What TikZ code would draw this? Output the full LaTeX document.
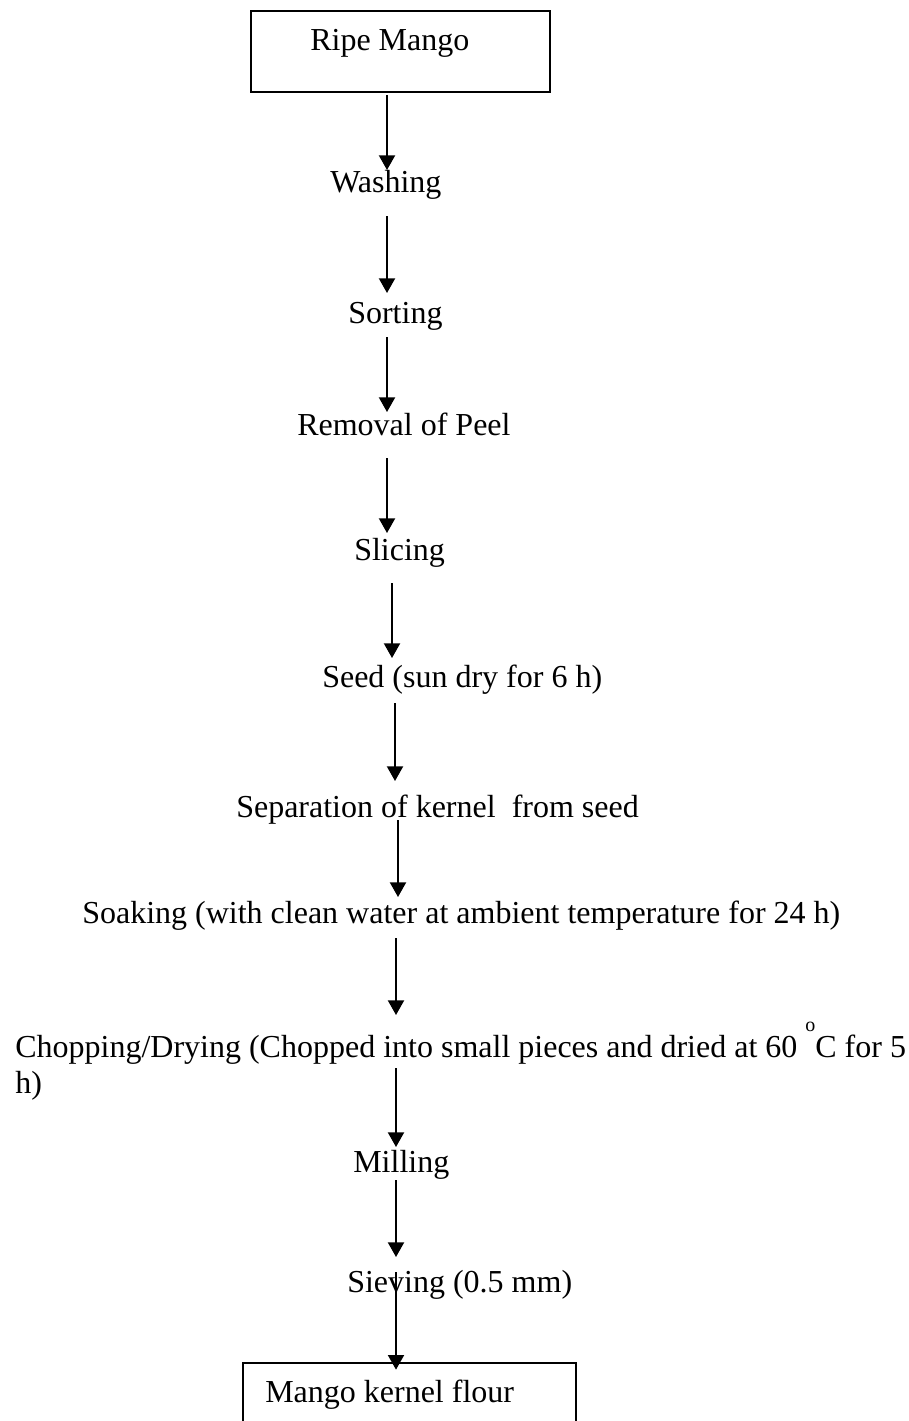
\documentclass[tikz,border=0pt]{standalone}
\usepackage{fontspec}
\setmainfont{Liberation Serif}
\usetikzlibrary{arrows.meta}
\begin{document}
\begin{tikzpicture}[x=0.75pt,y=-0.75pt,
  txt/.style={anchor=base west, inner sep=0pt, font=\fontsize{24}{28}\selectfont},
  arr/.style={line width=1.5pt, -{Triangle[width=12pt,length=11pt]}},
  boxline/.style={line width=1.4pt}]
\useasboundingbox (0,0) rectangle (909,1421);
% boxes
\node[boxline, draw, anchor=north west, inner sep=0pt, minimum width=224.25pt, minimum height=60.75pt] (topbox) at (250,10) {};
\draw[boxline] (243,1425) -- (243,1363) -- (576,1363) -- (576,1425);
\coordinate (botbox) at (396,1363);
% texts
\node[txt] (ripe) at (310,50) {Ripe Mango};
\node[txt] (wash) at (330,192) {Washing};
\node[txt] (sort) at (348,323) {Sorting};
\node[txt] (peel) at (297,435) {Removal of Peel};
\node[txt] (slic) at (354,560) {Slicing};
\node[txt] (seed) at (322,687) {Seed (sun dry for 6 h)};
\node[txt] (sepa) at (236,817) {Separation of kernel\ \ from seed};
\node[txt] (soak) at (82,923) {Soaking (with clean water at ambient temperature for 24 h)};
\node[txt] (chop) at (15,1057) {Chopping/Drying (Chopped into small pieces and dried at 60 \raisebox{0.8em}{\fontsize{15}{15}\selectfont o}C for 5};
\node[txt] (chop2) at (15,1093) {h)};
\node[txt] (mill) at (353,1172) {Milling};
\node[txt] (siev) at (347,1292) {Sieving (0.5 mm)};
\node[txt] (flour) at (265,1402) {Mango kernel flour};
% arrow end points
\coordinate (a1s) at (387,95);   \coordinate (a1e) at (387,170);
\coordinate (a2s) at (387,216);  \coordinate (a2e) at (387,293);
\coordinate (a3s) at (387,337);  \coordinate (a3e) at (387,412);
\coordinate (a4s) at (387,458);  \coordinate (a4e) at (387,533);
\coordinate (a5s) at (392,583);  \coordinate (a5e) at (392,658);
\coordinate (a6s) at (395,703);  \coordinate (a6e) at (395,781);
\coordinate (a7s) at (398,820);  \coordinate (a7e) at (398,897);
\coordinate (a8s) at (396,938);  \coordinate (a8e) at (396,1015);
\coordinate (a9s) at (396,1068); \coordinate (a9e) at (396,1147);
\coordinate (a10s) at (396,1180); \coordinate (a10e) at (396,1257);
\coordinate (a11s) at (396,1272);
\draw[arr] (a1s) -- (a1e);
\draw[arr] (a2s) -- (a2e);
\draw[arr] (a3s) -- (a3e);
\draw[arr] (a4s) -- (a4e);
\draw[arr] (a5s) -- (a5e);
\draw[arr] (a6s) -- (a6e);
\draw[arr] (a7s) -- (a7e);
\draw[arr] (a8s) -- (a8e);
\draw[arr] (a9s) -- (a9e);
\draw[arr] (a10s) -- (a10e);
\draw[arr] (a11s) -- ([yshift=-5]botbox);
\end{tikzpicture}
\end{document}
